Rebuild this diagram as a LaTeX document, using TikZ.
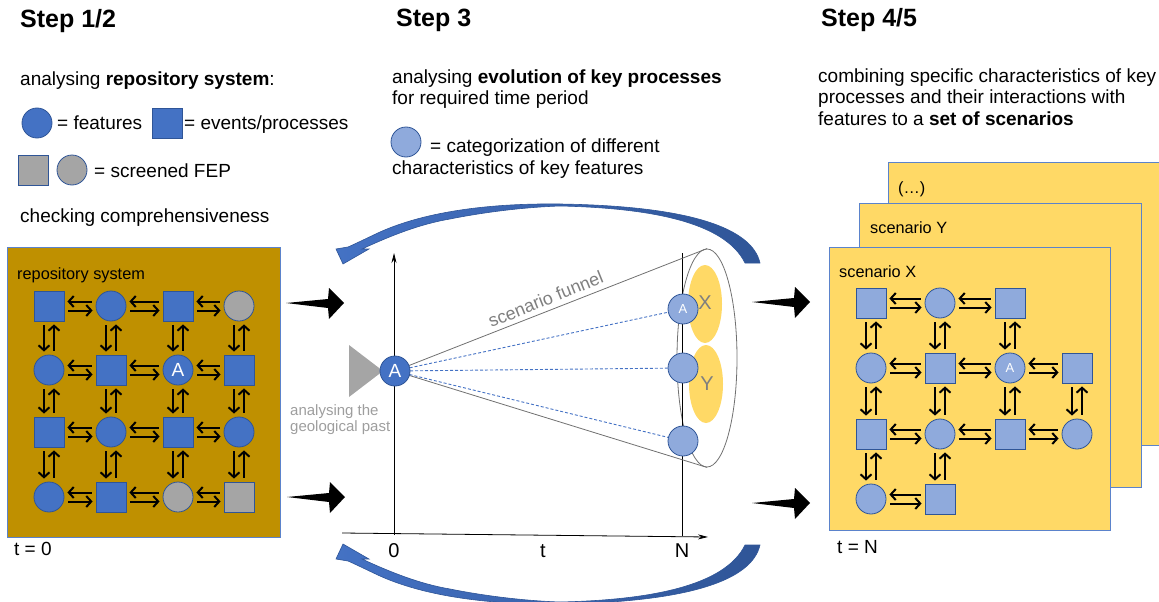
\documentclass[tikz,border=0pt]{standalone}
\usepackage{fontspec}
\setmainfont{Liberation Sans}
\usetikzlibrary{arrows.meta,shapes.geometric,calc}

\definecolor{dblue}{HTML}{4472C4}
\definecolor{dborder}{HTML}{2F5597}
\definecolor{lblue}{HTML}{8FAADC}
\definecolor{fgray}{HTML}{A5A5A5}
\definecolor{gold}{HTML}{BF9000}
\definecolor{yel}{HTML}{FFD966}
\definecolor{boxedge}{HTML}{5B83CB}
\definecolor{txtgray}{HTML}{7F7F7F}
\definecolor{lgtxt}{HTML}{9E9E9E}
\definecolor{funnelgray}{HTML}{707070}

\tikzset{
 feat/.style={circle, draw=dborder, line width=0.8pt, fill=dblue, minimum size=30pt, inner sep=0pt, text=white, font=\fontsize{19}{22}\selectfont},
 evt/.style={rectangle, draw=dborder, line width=0.8pt, fill=dblue, minimum size=30pt, inner sep=0pt},
 sfeat/.style={feat, fill=fgray},
 sevt/.style={evt, fill=fgray},
 lfeat/.style={feat, fill=lblue, font=\fontsize{13}{15}\selectfont},
 levt/.style={evt, fill=lblue},
 garr/.style={-{Straight Barb[length=5pt,width=11pt]}, line width=2pt, shorten <=4pt, shorten >=3pt},
 txt/.style={anchor=base west, inner sep=0pt, font=\fontsize{19}{22}\selectfont},
 steptitle/.style={anchor=base west, inner sep=0pt, font=\fontsize{25}{30}\selectfont\bfseries},
 boxlabel/.style={anchor=base west, inner sep=0pt, font=\fontsize{16.3}{19}\selectfont},
 graytxt/.style={anchor=base west, inner sep=0pt, text=lgtxt, font=\fontsize{15}{18}\selectfont},
 axislbl/.style={anchor=base, inner sep=0pt, font=\fontsize{20}{24}\selectfont},
 panel/.style={rectangle, anchor=north west, inner sep=0pt},
 axisline/.style={line width=0.8pt, -{Stealth[length=10pt,width=5pt]}},
 funnelline/.style={draw=funnelgray, line width=0.8pt},
 dotline/.style={draw=dblue, line width=0.9pt, dash pattern=on 3pt off 2pt},
 curvearrow/.style={left color=dblue, right color=dborder, draw=dborder, line width=0.6pt},
 blackarrow/.style={fill=black}
}

\newcommand\hpair[2]{%
 \draw[garr] ([yshift=4.5pt]#2.west) -- ([yshift=4.5pt]#1.east);
 \draw[garr] ([yshift=-4.5pt]#1.east) -- ([yshift=-4.5pt]#2.west);}
\newcommand\vpair[2]{%
 \draw[garr] ([xshift=-5pt]#1.south) -- ([xshift=-5pt]#2.north);
 \draw[garr] ([xshift=5pt]#2.north) -- ([xshift=5pt]#1.south);}
\newcommand\bigblackarrow[2]{%
 \fill[blackarrow] (#1,#2) -- ++(42,-4) -- ++(1,-11) -- ++(15,15) -- ++(-15,16) -- ++(-1,-11) -- cycle;}

\begin{document}
\begin{tikzpicture}[x=1pt,y=-1pt]
\useasboundingbox (0,0) rectangle (1159,602);

% ---------------- Titles and texts ----------------
\node[steptitle] (t1) at (20,28) {Step 1/2};
\node[steptitle] (t3) at (396,27) {Step 3};
\node[steptitle] (t45) at (821,27) {Step 4/5};

\node[txt] (a1) at (20,85) {analysing \textbf{repository system}:};
\node[feat] (legF) at (37,123) {};
\node[txt] (a2) at (57,129) {= features};
\node[evt] (legE) at (167,123) {};
\node[txt] (a3) at (184,129) {= events/processes};
\node[sevt] (legSE) at (33,170) {};
\node[sfeat] (legSF) at (72,170) {};
\node[txt] (a4) at (94,177) {= screened FEP};
\node[txt] (a5) at (20,222) {checking comprehensiveness};

\node[txt] (b1) at (392,83) {analysing \textbf{evolution of key processes}};
\node[txt] (b2) at (392,104) {for required time period};
\node[lfeat] (legL) at (406,142) {};
\node[txt] (b3) at (430,152) {= categorization of different};
\node[txt] (b4) at (392,174) {characteristics of key features};

\node[txt] (c1) at (818,82) {combining specific characteristics of key};
\node[txt] (c2) at (818,103) {processes and their interactions with};
\node[txt] (c3) at (818,125) {features to a \textbf{set of scenarios}};

% ---------------- Left panel ----------------
\node[panel, draw=boxedge, fill=gold, line width=1.4pt, minimum width=273pt, minimum height=290pt] (repo) at (7,247) {};
\node[boxlabel] (repolbl) at (17,279) {repository system};
\node[txt] (t0) at (14,555) {t = 0};

\node[evt]  (L11) at (49,306) {};
\node[feat] (L12) at (111,306) {};
\node[evt]  (L13) at (178,306) {};
\node[sfeat](L14) at (239,306) {};
\node[feat] (L21) at (49,370) {};
\node[evt]  (L22) at (111,370) {};
\node[feat] (L23) at (178,370) {A};
\node[evt]  (L24) at (239,370) {};
\node[evt]  (L31) at (49,432) {};
\node[feat] (L32) at (111,432) {};
\node[evt]  (L33) at (178,432) {};
\node[feat] (L34) at (239,432) {};
\node[feat] (L41) at (49,497) {};
\node[evt]  (L42) at (111,497) {};
\node[sfeat](L43) at (178,497) {};
\node[sevt] (L44) at (239,497) {};

\hpair{L11}{L12}\hpair{L12}{L13}\hpair{L13}{L14}
\hpair{L21}{L22}\hpair{L22}{L23}\hpair{L23}{L24}
\hpair{L31}{L32}\hpair{L32}{L33}\hpair{L33}{L34}
\hpair{L41}{L42}\hpair{L42}{L43}\hpair{L43}{L44}
\vpair{L11}{L21}\vpair{L12}{L22}\vpair{L13}{L23}\vpair{L14}{L24}
\vpair{L21}{L31}\vpair{L22}{L32}\vpair{L23}{L33}\vpair{L24}{L34}
\vpair{L31}{L41}\vpair{L32}{L42}\vpair{L33}{L43}\vpair{L34}{L44}

% ---------------- Right panel ----------------
\node[panel, draw=boxedge, fill=yel, line width=1.2pt, minimum width=300pt, minimum height=283pt] (boxZ) at (888,162) {};
\node[boxlabel] (lblZ) at (898,193) {(…)};
\node[panel, draw=boxedge, fill=yel, line width=1.2pt, minimum width=282pt, minimum height=284pt] (boxY) at (859,203) {};
\node[boxlabel] (lblY) at (870,233) {scenario Y};
\node[panel, draw=boxedge, fill=yel, line width=1.2pt, minimum width=281pt, minimum height=283pt] (boxX) at (829,247) {};
\node[boxlabel] (lblX) at (839,277) {scenario X};
\node[txt] (tN) at (837,553) {t = N};

\node[levt]  (R11) at (871,303) {};
\node[lfeat] (R12) at (940,303) {};
\node[levt]  (R13) at (1010,303) {};
\node[lfeat] (R21) at (871,368) {};
\node[levt]  (R22) at (940,368) {};
\node[lfeat] (R23) at (1010,368) {A};
\node[levt]  (R24) at (1077,368) {};
\node[levt]  (R31) at (871,434) {};
\node[lfeat] (R32) at (940,434) {};
\node[levt]  (R33) at (1010,434) {};
\node[lfeat] (R34) at (1077,434) {};
\node[lfeat] (R41) at (871,499) {};
\node[levt]  (R42) at (940,499) {};

\hpair{R11}{R12}\hpair{R12}{R13}
\hpair{R21}{R22}\hpair{R22}{R23}\hpair{R23}{R24}
\hpair{R31}{R32}\hpair{R32}{R33}\hpair{R33}{R34}
\hpair{R41}{R42}
\vpair{R11}{R21}\vpair{R12}{R22}\vpair{R13}{R23}
\vpair{R21}{R31}\vpair{R22}{R32}\vpair{R23}{R33}\vpair{R24}{R34}
\vpair{R31}{R41}\vpair{R32}{R42}

% ---------------- Middle: funnel ----------------
\node[ellipse, fill=yel, minimum width=34pt, minimum height=78pt, inner sep=0pt] (ellX) at (705,304) {};
\node[ellipse, fill=yel, minimum width=34pt, minimum height=78pt, inner sep=0pt] (ellY) at (706,384) {};
\node[ellipse, draw=funnelgray, line width=0.8pt, minimum width=60pt, minimum height=218pt, inner sep=0pt] (fun) at (707,358) {};
\node[text=txtgray, font=\fontsize{20}{24}\selectfont, inner sep=0pt] (lX) at (705,303) {X};
\node[text=txtgray, font=\fontsize{20}{24}\selectfont, inner sep=0pt] (lY) at (707,384) {Y};

\coordinate (o0) at (394,535);
\coordinate (ytop) at (394,253);
\coordinate (xl) at (342,533);
\coordinate (xr) at (708,537);
\coordinate (ntop) at (682,253);
\coordinate (nbot) at (682,536);
\draw[axisline] (o0) -- (ytop);
\draw[axisline] (xl) -- (xr);
\draw[line width=0.8pt] (nbot) -- (ntop);

\node[lfeat] (N1) at (683,309) {A};
\node[lfeat] (N2) at (683,368) {};
\node[lfeat] (N3) at (683,441) {};

\coordinate (Ac) at (395,371);
\draw[funnelline] (Ac) -- (fun.north);
\draw[funnelline] (Ac) -- (fun.south);
\draw[dotline] (Ac) -- (N1);
\draw[dotline] (Ac) -- (N2);
\draw[dotline] (Ac) -- (N3);

\fill[fgray] (349,345) -- (383,371) -- (349,397) -- cycle;
\node[feat] (A) at (Ac) {A};

\node[anchor=base, rotate=22, inner sep=0pt, text=txtgray, font=\fontsize{18}{21}\selectfont] (sf) at (548,305) {scenario funnel};
\node[graytxt] (g1) at (290,415) {analysing the};
\node[graytxt] (g2) at (290,431) {geological past};

\node[axislbl] (l0) at (394,557) {0};
\node[axislbl] (lt) at (543,557) {t};
\node[axislbl] (lN) at (682,557) {N};

% ---------------- Curved arrows ----------------
\path[curvearrow] (760,263) .. controls (752,228) and (690,206) .. (560,204)
  .. controls (480,203) and (420,214) .. (380,232)
  .. controls (365,239) and (355,244) .. (348,247)
  -- (336,249) -- (343,264) -- (369,249) -- (362,249)
  .. controls (390,236) and (420,224) .. (450,219)
  .. controls (490,211) and (530,207) .. (560,206)
  .. controls (650,208) and (725,222) .. (745,263) -- cycle;
\path[curvearrow] (760,545) .. controls (752,580) and (690,602) .. (560,604)
  .. controls (480,605) and (420,594) .. (380,576)
  .. controls (365,569) and (355,564) .. (348,561)
  -- (336,559) -- (343,544) -- (369,559) -- (362,559)
  .. controls (390,572) and (420,584) .. (450,589)
  .. controls (490,597) and (530,601) .. (560,602)
  .. controls (650,600) and (725,586) .. (745,545) -- cycle;

% ---------------- Black arrows ----------------
\bigblackarrow{286}{303}
\bigblackarrow{287}{497}
\bigblackarrow{752}{302}
\bigblackarrow{752}{503}

\end{tikzpicture}
\end{document}
